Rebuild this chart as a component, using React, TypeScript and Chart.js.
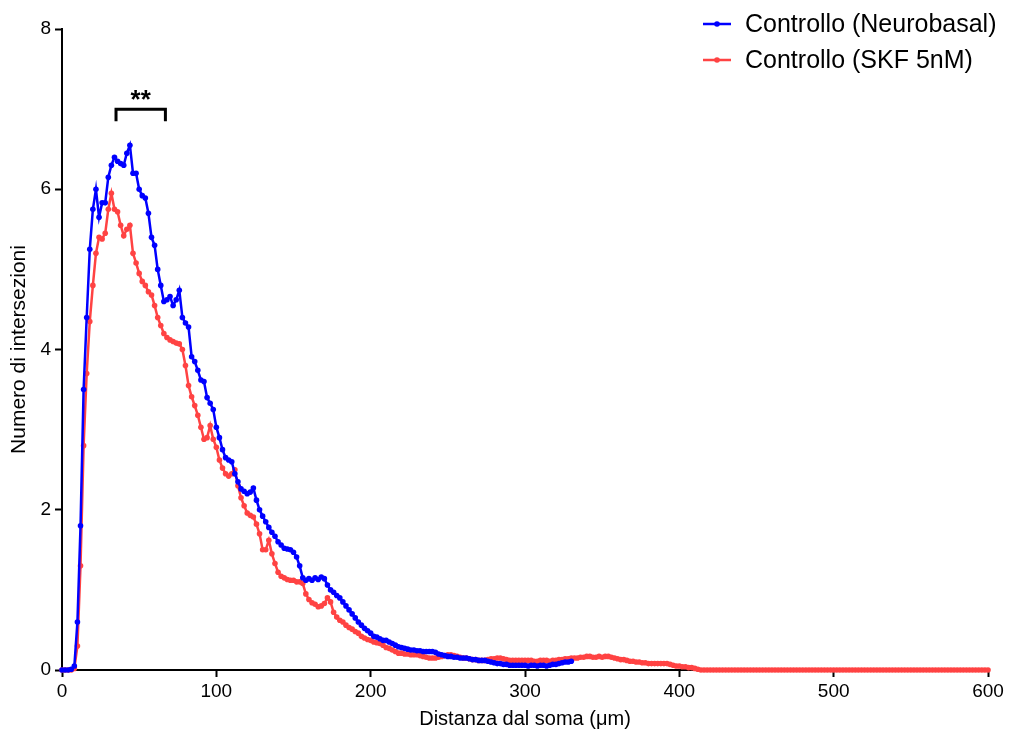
import React, { useEffect, useRef } from "react";
import { Chart, registerables } from "chart.js";

Chart.register(...registerables);

// Sampling step of the Sholl analysis radii (µm)
const STEP_UM = 2;

const SERIES_NEURO_LABEL = "Controllo (Neurobasal)";
const SERIES_SKF_LABEL = "Controllo (SKF 5nM)";

// Blue: mean intersections, Neurobasal, radii 0..330 µm every 2 µm
const neurobasal = [
  0, 0, 0, 0.01, 0.05, 0.6, 1.8, 3.5, 4.4, 5.25,
  5.75, 6.0, 5.65, 5.83, 5.83, 6.15, 6.3, 6.4, 6.35, 6.32,
  6.3, 6.45, 6.55, 6.2, 6.2, 6.0, 5.92, 5.89, 5.7, 5.4,
  5.3, 5.0, 4.8, 4.6, 4.62, 4.66, 4.55, 4.62, 4.74, 4.4,
  4.33, 4.28, 3.91, 3.85, 3.74, 3.62, 3.6, 3.4, 3.33, 3.25,
  3.03, 2.9, 2.75, 2.65, 2.62, 2.6, 2.45, 2.35, 2.26, 2.23,
  2.2, 2.22, 2.27, 2.12, 2.0, 1.92, 1.85, 1.78, 1.72, 1.67,
  1.6, 1.56, 1.52, 1.51, 1.5, 1.47, 1.41, 1.3, 1.15, 1.12,
  1.14, 1.12, 1.15, 1.13, 1.16, 1.14, 1.06, 1.0, 0.97, 0.93,
  0.9, 0.85, 0.8, 0.75, 0.7, 0.65, 0.6, 0.56, 0.52, 0.49,
  0.46, 0.42, 0.41, 0.39, 0.37, 0.37, 0.35, 0.33, 0.31, 0.29,
  0.28, 0.27, 0.26, 0.25, 0.25, 0.24, 0.24, 0.23, 0.23, 0.23,
  0.23, 0.22, 0.2, 0.19, 0.18, 0.17, 0.17, 0.16, 0.16, 0.15,
  0.15, 0.15, 0.14, 0.13, 0.13, 0.12, 0.12, 0.12, 0.11, 0.1,
  0.09, 0.08, 0.08, 0.07, 0.07, 0.06, 0.06, 0.06, 0.06, 0.06,
  0.06, 0.05, 0.06, 0.06, 0.05, 0.06, 0.06, 0.05, 0.06, 0.07,
  0.07, 0.08, 0.09, 0.1, 0.1, 0.11,
];

// Red: mean intersections, SKF 5nM, radii 0..600 µm every 2 µm
const skf5nM = [
  0, 0, 0, 0, 0.02, 0.3, 1.3, 2.8, 3.7, 4.35,
  4.8, 5.2, 5.4, 5.38, 5.45, 5.75, 5.95, 5.75, 5.72, 5.55,
  5.42, 5.5, 5.55, 5.2, 5.08, 4.95, 4.85, 4.8, 4.72, 4.68,
  4.55, 4.4, 4.3, 4.2, 4.15, 4.12, 4.1, 4.08, 4.07, 4.0,
  3.8, 3.55, 3.41, 3.3, 3.18, 3.03, 2.88, 2.9, 3.05, 2.88,
  2.78, 2.62, 2.52, 2.45, 2.42, 2.45, 2.5, 2.3, 2.15, 2.05,
  1.96, 1.93, 1.91, 1.82, 1.7, 1.5, 1.5, 1.62, 1.45, 1.33,
  1.22, 1.17, 1.15, 1.13, 1.12, 1.12, 1.1, 1.1, 1.08, 0.95,
  0.88, 0.84, 0.82, 0.79, 0.8, 0.83, 0.9, 0.85, 0.72, 0.66,
  0.62, 0.6, 0.56, 0.53, 0.51, 0.48, 0.46, 0.42, 0.4, 0.38,
  0.37, 0.35, 0.34, 0.33, 0.31, 0.28, 0.27, 0.25, 0.23, 0.21,
  0.21, 0.2, 0.2, 0.19, 0.19, 0.19, 0.18, 0.17, 0.16, 0.15,
  0.15, 0.15, 0.16, 0.17, 0.18, 0.19, 0.19, 0.18, 0.17, 0.16,
  0.15, 0.15, 0.14, 0.13, 0.13, 0.12, 0.12, 0.12, 0.13, 0.14,
  0.14, 0.15, 0.15, 0.14, 0.13, 0.12, 0.12, 0.12, 0.12, 0.12,
  0.12, 0.12, 0.12, 0.11, 0.11, 0.12, 0.12, 0.12, 0.11, 0.12,
  0.12, 0.13, 0.13, 0.14, 0.14, 0.15, 0.15, 0.15, 0.16, 0.16,
  0.17, 0.17, 0.16, 0.16, 0.17, 0.16, 0.17, 0.17, 0.16, 0.15,
  0.14, 0.13, 0.13, 0.12, 0.11, 0.11, 0.1, 0.1, 0.09, 0.09,
  0.08, 0.08, 0.08, 0.08, 0.08, 0.08, 0.08, 0.07, 0.06, 0.05,
  0.05, 0.04, 0.04, 0.03, 0.03, 0.02, 0.01,
  0, 0, 0, 0, 0, 0, 0, 0, 0, 0,
  0, 0, 0, 0, 0, 0, 0, 0, 0, 0,
  0, 0, 0, 0, 0, 0, 0, 0, 0, 0,
  0, 0, 0, 0, 0, 0, 0, 0, 0, 0,
  0, 0, 0, 0, 0, 0, 0, 0, 0, 0,
  0, 0, 0, 0, 0, 0, 0, 0, 0, 0,
  0, 0, 0, 0, 0, 0, 0, 0, 0, 0,
  0, 0, 0, 0, 0, 0, 0, 0, 0, 0,
  0, 0, 0, 0, 0, 0, 0, 0, 0, 0,
  0, 0, 0, 0,
];

// Axis ranges / ticks
const X_MIN = 0;
const X_MAX = 600;
const X_STEP = 100;
const Y_MIN = 0;
const Y_MAX = 8;
const Y_STEP = 2;

// Significance bracket (data coordinates)
const SIG_X_START = 35;
const SIG_X_END = 67;
const SIG_Y = 7.0;
const SIG_Y_LEG = 6.85;
const SIG_TEXT = "**";

const BLUE = "#0000FF";
const RED = "#FF4343";
const FONT = "'Liberation Sans', Arial, sans-serif";

const toPoints = (arr: number[]) => arr.map((v, i) => ({ x: i * STEP_UM, y: v }));

export default function App() {
  const canvasRef = useRef<HTMLCanvasElement | null>(null);

  useEffect(() => {
    if (!canvasRef.current) return;

    const overlay = {
      id: "overlay",
      afterDraw(chart: any) {
        const { ctx, scales } = chart;
        const xs = scales.x;
        const ys = scales.y;
        ctx.save();
        // significance bracket
        const x1 = xs.getPixelForValue(SIG_X_START);
        const x2 = xs.getPixelForValue(SIG_X_END);
        const yTop = ys.getPixelForValue(SIG_Y);
        const yLeg = ys.getPixelForValue(SIG_Y_LEG);
        ctx.strokeStyle = "#000";
        ctx.lineWidth = 3;
        ctx.lineJoin = "miter";
        ctx.beginPath();
        ctx.moveTo(x1, yLeg);
        ctx.lineTo(x1, yTop);
        ctx.lineTo(x2, yTop);
        ctx.lineTo(x2, yLeg);
        ctx.stroke();
        ctx.fillStyle = "#000";
        ctx.font = `bold 26px ${FONT}`;
        ctx.textAlign = "center";
        ctx.textBaseline = "alphabetic";
        ctx.fillText(SIG_TEXT, (x1 + x2) / 2, yTop - 1);

        // legend
        const items = [
          { label: SERIES_NEURO_LABEL, color: BLUE, y: 24 },
          { label: SERIES_SKF_LABEL, color: RED, y: 60 },
        ];
        ctx.font = `25px ${FONT}`;
        ctx.textAlign = "left";
        ctx.textBaseline = "middle";
        for (const it of items) {
          ctx.strokeStyle = it.color;
          ctx.lineWidth = 2.5;
          ctx.beginPath();
          ctx.moveTo(703, it.y);
          ctx.lineTo(731, it.y);
          ctx.stroke();
          ctx.fillStyle = it.color;
          ctx.beginPath();
          ctx.arc(717, it.y, 2.8, 0, Math.PI * 2);
          ctx.fill();
          ctx.fillStyle = "#000";
          ctx.fillText(it.label, 745, it.y + 1);
        }
        ctx.restore();
      },
    };

    const chart = new Chart(canvasRef.current, {
      type: "line",
      data: {
        datasets: [
          {
            label: SERIES_NEURO_LABEL,
            data: toPoints(neurobasal),
            borderColor: BLUE,
            backgroundColor: BLUE,
            borderWidth: 2.5,
            pointRadius: 2.8,
            pointBorderWidth: 0,
            pointBackgroundColor: BLUE,
            tension: 0,
            clip: false as any,
          },
          {
            label: SERIES_SKF_LABEL,
            data: toPoints(skf5nM),
            borderColor: RED,
            backgroundColor: RED,
            borderWidth: 2.5,
            pointRadius: 2.8,
            pointBorderWidth: 0,
            pointBackgroundColor: RED,
            tension: 0,
            clip: false as any,
          },
        ],
      },
      options: {
        animation: false,
        responsive: true,
        maintainAspectRatio: false,
        layout: { padding: { top: 29, right: 36, left: 0, bottom: 0 } },
        plugins: {
          legend: { display: false },
          tooltip: { enabled: false },
        },
        scales: {
          x: {
            type: "linear",
            min: X_MIN,
            max: X_MAX,
            ticks: {
              stepSize: X_STEP,
              color: "#000",
              font: { family: FONT, size: 19 },
              padding: 3,
              maxRotation: 0,
            },
            grid: {
              display: true,
              drawOnChartArea: false,
              drawTicks: true,
              tickLength: 7,
              tickWidth: 2,
              tickColor: "#000",
            },
            border: { display: true, color: "#000", width: 2 },
            title: {
              display: true,
              text: "Distanza dal soma (μm)",
              color: "#000",
              font: { family: FONT, size: 20 },
              padding: { top: 0, bottom: 11 },
            },
            afterFit: (scale: any) => {
              scale.height = 72;
            },
          },
          y: {
            type: "linear",
            min: Y_MIN,
            max: Y_MAX,
            ticks: {
              stepSize: Y_STEP,
              color: "#000",
              font: { family: FONT, size: 19 },
              padding: 4,
            },
            grid: {
              display: true,
              drawOnChartArea: false,
              drawTicks: true,
              tickLength: 7,
              tickWidth: 2,
              tickColor: "#000",
            },
            border: { display: true, color: "#000", width: 2 },
            title: {
              display: true,
              text: "Numero di intersezioni",
              color: "#000",
              font: { family: FONT, size: 21 },
              padding: { top: 7, bottom: 0 },
            },
            afterFit: (scale: any) => {
              scale.width = 62;
            },
          },
        },
      },
      plugins: [overlay],
    });

    return () => chart.destroy();
  }, []);

  return (
    <div style={{ position: "fixed", left: 0, top: 0, width: 1024, height: 742, background: "#fff" }}>
      <canvas ref={canvasRef} />
    </div>
  );
}
